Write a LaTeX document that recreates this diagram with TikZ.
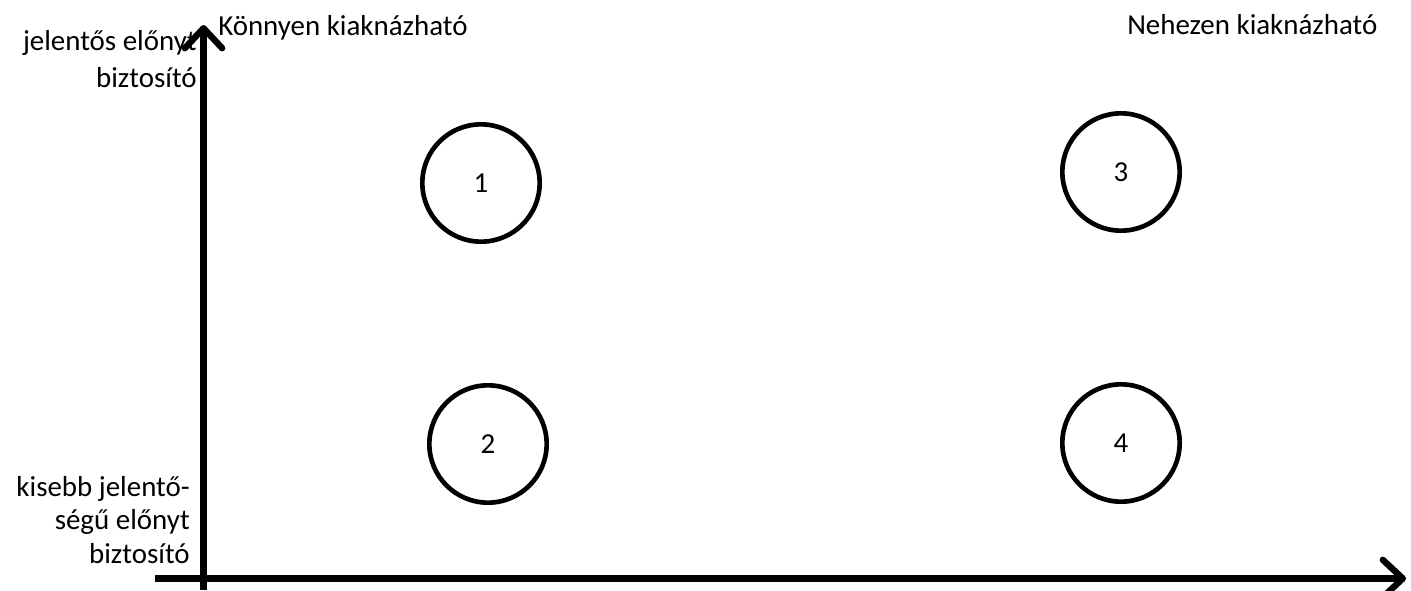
\documentclass[tikz,border=0pt]{standalone}
\usepackage{fontspec}
\setmainfont{Carlito}
\usetikzlibrary{arrows.meta}

\begin{document}
\begin{tikzpicture}[x=0.75pt, y=-0.75pt,
    axisline/.style={line width=4.8pt, -{Straight Barb[length=15pt,width=28pt,line cap=round,line join=round]}},
    spot/.style={circle, draw, line width=3.5pt, minimum size=88pt, inner sep=0pt, font=\fontsize{21.7}{26}\selectfont},
    lbl/.style={font=\fontsize{21.7}{26}\selectfont, inner sep=0pt}]
  \useasboundingbox (0,0) rectangle (1411,590);

  % axes
  \coordinate (ybottom) at (203.5,590);
  \coordinate (ytop) at (203.5,25);
  \coordinate (xleft) at (155,578.5);
  \coordinate (xright) at (1406,578.5);
  \draw[axisline] (ybottom) -- (ytop);
  \draw[axisline] (xleft) -- (xright);

  % axis labels
  \node[lbl, anchor=base west] (easy) at (218,35) {Könnyen kiaknázható};
  \node[lbl, anchor=base west] (hard) at (1127,34) {Nehezen kiaknázható};
  \node[lbl, anchor=base east, align=right, font=\fontsize{21.7}{27.7}\selectfont] (high) at (197,87)
    {jelentős előnyt\\biztosító};
  \node[lbl, anchor=base east, align=right, font=\fontsize{21.7}{24.8}\selectfont] (low) at (190,563)
    {kisebb jelentő-\\ségű előnyt\\biztosító};

  % quadrants
  \node[spot] (q1) at (481,183) {1};
  \node[spot] (q2) at (488,444) {2};
  \node[spot] (q3) at (1121,172) {3};
  \node[spot] (q4) at (1121,443) {4};
\end{tikzpicture}
\end{document}
